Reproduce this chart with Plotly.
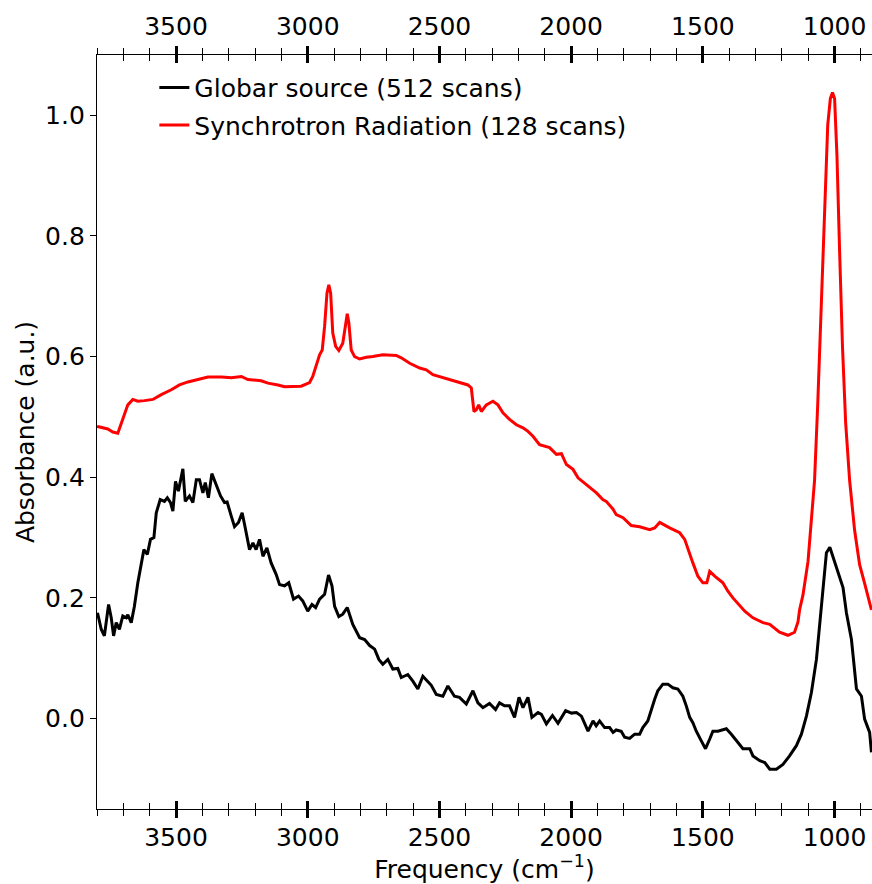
import plotly.graph_objects as go

# Synchrotron Radiation (128 scans)
wn_sync = [3800, 3797, 3759, 3740, 3721, 3708, 3696, 3683, 3664, 3645, 3620, 3588, 3556, 3518, 3487,
           3455, 3417, 3379, 3328, 3290, 3252, 3227, 3177, 3151, 3113, 3088, 3025, 2993, 2981, 2968,
           2955, 2945, 2936, 2927, 2920, 2913, 2905, 2894, 2882, 2867, 2856, 2850, 2844, 2835, 2822,
           2803, 2778, 2753, 2715, 2664, 2645, 2613, 2575, 2550, 2525, 2487, 2462, 2424, 2392, 2379,
           2369, 2360, 2351, 2341, 2322, 2297, 2278, 2259, 2234, 2208, 2183, 2164, 2145, 2120, 2082,
           2056, 2037, 2018, 1993, 1974, 1942, 1904, 1880, 1867, 1841, 1829, 1803, 1772, 1740, 1702,
           1683, 1664, 1626, 1588, 1569, 1550, 1538, 1519, 1500, 1485, 1474, 1455, 1424, 1405, 1386,
           1341, 1310, 1272, 1246, 1209, 1177, 1152, 1139, 1133, 1120, 1101, 1089, 1076, 1064, 1054,
           1045, 1035, 1026, 1016, 1008, 1000, 991, 981, 970, 958, 943, 924, 905, 886, 860]
abs_sync = [0.485, 0.484, 0.480, 0.475, 0.473, 0.490, 0.504, 0.520, 0.529, 0.526, 0.527, 0.529, 0.537, 0.545, 0.553,
            0.558, 0.562, 0.566, 0.566, 0.565, 0.567, 0.562, 0.560, 0.556, 0.553, 0.550, 0.551, 0.557, 0.567, 0.584,
            0.603, 0.611, 0.650, 0.705, 0.719, 0.705, 0.639, 0.617, 0.610, 0.622, 0.653, 0.671, 0.656, 0.611, 0.600,
            0.596, 0.599, 0.600, 0.603, 0.602, 0.598, 0.589, 0.581, 0.578, 0.570, 0.565, 0.563, 0.557, 0.553, 0.548,
            0.509, 0.512, 0.520, 0.509, 0.520, 0.526, 0.520, 0.507, 0.496, 0.487, 0.482, 0.476, 0.468, 0.454, 0.449,
            0.438, 0.439, 0.421, 0.413, 0.399, 0.388, 0.374, 0.363, 0.360, 0.347, 0.338, 0.333, 0.320, 0.318, 0.313,
            0.316, 0.325, 0.316, 0.308, 0.297, 0.272, 0.258, 0.236, 0.225, 0.225, 0.244, 0.236, 0.225, 0.211, 0.200,
            0.178, 0.167, 0.159, 0.156, 0.143, 0.138, 0.143, 0.160, 0.180, 0.205, 0.260, 0.319, 0.395, 0.521, 0.648,
            0.775, 0.901, 0.984, 1.028, 1.038, 1.028, 0.933, 0.775, 0.616, 0.490, 0.395, 0.312, 0.255, 0.224, 0.180]

# Globar source (512 scans)
wn_glob = [3800, 3797, 3784, 3772, 3756, 3746, 3737, 3727, 3715, 3702, 3689, 3683, 3670, 3658, 3645,
           3632, 3622, 3609, 3597, 3584, 3575, 3560, 3544, 3533, 3521, 3512, 3502, 3491, 3474, 3465,
           3449, 3436, 3423, 3411, 3398, 3389, 3377, 3364, 3347, 3331, 3316, 3306, 3290, 3278, 3263,
           3249, 3240, 3221, 3208, 3196, 3183, 3170, 3155, 3139, 3120, 3107, 3088, 3072, 3054, 3035,
           3019, 3000, 2984, 2970, 2955, 2936, 2921, 2908, 2898, 2882, 2867, 2850, 2829, 2803, 2784,
           2765, 2746, 2730, 2715, 2696, 2677, 2658, 2645, 2620, 2601, 2582, 2563, 2531, 2512, 2487,
           2468, 2443, 2424, 2398, 2373, 2354, 2335, 2310, 2287, 2272, 2253, 2234, 2215, 2198, 2183,
           2164, 2149, 2126, 2113, 2094, 2071, 2050, 2021, 1999, 1980, 1961, 1936, 1917, 1905, 1892,
           1873, 1854, 1841, 1829, 1810, 1797, 1778, 1759, 1740, 1728, 1709, 1696, 1683, 1671, 1652,
           1633, 1614, 1595, 1576, 1563, 1550, 1538, 1525, 1506, 1490, 1474, 1462, 1443, 1424, 1411,
           1392, 1373, 1348, 1322, 1310, 1284, 1265, 1246, 1221, 1196, 1171, 1145, 1126, 1107, 1088,
           1069, 1057, 1044, 1031, 1018, 1000, 987, 968, 955, 936, 917, 898, 886, 867, 860]
abs_glob = [0.175, 0.173, 0.148, 0.137, 0.189, 0.167, 0.137, 0.159, 0.148, 0.170, 0.167, 0.172, 0.159, 0.186, 0.225,
            0.253, 0.280, 0.272, 0.297, 0.300, 0.341, 0.363, 0.360, 0.366, 0.358, 0.344, 0.393, 0.377, 0.414, 0.360,
            0.369, 0.358, 0.396, 0.396, 0.374, 0.391, 0.366, 0.406, 0.388, 0.369, 0.358, 0.359, 0.335, 0.318, 0.325,
            0.341, 0.322, 0.280, 0.291, 0.280, 0.297, 0.269, 0.283, 0.258, 0.239, 0.222, 0.220, 0.225, 0.198, 0.203,
            0.195, 0.178, 0.189, 0.184, 0.198, 0.206, 0.238, 0.220, 0.186, 0.169, 0.173, 0.184, 0.156, 0.134, 0.131,
            0.121, 0.115, 0.098, 0.090, 0.098, 0.082, 0.083, 0.068, 0.073, 0.062, 0.049, 0.070, 0.055, 0.040, 0.037,
            0.054, 0.037, 0.035, 0.024, 0.046, 0.026, 0.018, 0.025, 0.015, 0.026, 0.021, 0.021, 0.002, 0.035, 0.018,
            0.035, 0.002, 0.010, 0.007, -0.009, 0.005, -0.008, 0.013, 0.009, 0.010, 0.004, -0.021, -0.004, -0.012, -0.004,
            -0.015, -0.015, -0.023, -0.019, -0.021, -0.031, -0.033, -0.026, -0.026, -0.015, -0.004, 0.015, 0.032, 0.046, 0.057,
            0.057, 0.051, 0.049, 0.037, 0.021, 0.002, -0.007, -0.021, -0.037, -0.050, -0.034, -0.021, -0.021, -0.018, -0.017,
            -0.026, -0.037, -0.050, -0.050, -0.062, -0.070, -0.073, -0.084, -0.084, -0.076, -0.062, -0.045, -0.026, 0.004, 0.043,
            0.098, 0.153, 0.225, 0.275, 0.284, 0.261, 0.242, 0.217, 0.175, 0.131, 0.049, 0.037, -0.001, -0.023, -0.056]

x_range = [3800, 858]
y_range = [-0.15, 1.10]
x_major = [3500, 3000, 2500, 2000, 1500, 1000]

FONT = "DejaVu Sans"
fig = go.Figure()
fig.add_trace(go.Scatter(x=wn_glob, y=abs_glob, mode="lines", name="Globar source (512 scans)",
                         legendgroup="g", line=dict(color="black", width=3)))
fig.add_trace(go.Scatter(x=wn_sync, y=abs_sync, mode="lines", name="Synchrotron Radiation (128 scans)",
                         legendgroup="s", line=dict(color="red", width=3)))
# invisible carriers so that the extra tick axes are drawn
for ax in ["x2", "x3", "x4"]:
    fig.add_trace(go.Scatter(x=wn_glob, y=abs_glob, xaxis=ax, yaxis="y", mode="lines", opacity=0,
                             showlegend=False, hoverinfo="skip", line=dict(width=0.1)))

common = dict(range=x_range, autorange=False, showgrid=False, zeroline=False, tickmode="array",
              tickvals=x_major, tickcolor="black", tickwidth=3, ticklen=8, automargin=False)
minor_out = dict(dtick=100, tick0=0, ticks="outside", ticklen=6, tickwidth=1.3, tickcolor="black", showgrid=False)
minor_in = dict(dtick=100, tick0=0, ticks="inside", ticklen=6, tickwidth=1.3, tickcolor="black", showgrid=False)

fig.update_layout(
    width=872, height=884,
    margin=dict(l=97, r=0, t=55, b=75, autoexpand=False),
    plot_bgcolor="white", paper_bgcolor="white",
    font=dict(family=FONT, size=25, color="black"),
    xaxis=dict(**common, side="bottom", anchor="y", ticks="outside", minor=minor_out,
               showline=True, linecolor="black", linewidth=1.3,
               tickfont=dict(size=25), ticklabelstandoff=-2,
               title=dict(text="Frequency (cm<sup>−1</sup>)", font=dict(size=25), standoff=10)),
    xaxis2=dict(**common, side="bottom", anchor="y", overlaying="x", ticks="inside", minor=minor_in,
                showticklabels=False, showline=False),
    xaxis3=dict(**common, side="top", anchor="y", overlaying="x", ticks="outside", minor=minor_out,
                showline=True, linecolor="black", linewidth=1.3, showticklabels=True,
                tickfont=dict(size=25), ticklabelstandoff=1),
    xaxis4=dict(**common, side="top", anchor="y", overlaying="x", ticks="inside", minor=minor_in,
                showticklabels=False, showline=False),
    yaxis=dict(range=y_range, autorange=False, tick0=0, dtick=0.2, tickformat=".1f", ticks="outside", ticklen=6,
               tickwidth=1.3, tickcolor="black", showline=True, linecolor="black", linewidth=1.3,
               showgrid=False, zeroline=False, tickfont=dict(size=25), automargin=False,
               title=dict(text="Absorbance (a.u.)", font=dict(size=25), standoff=3)),
    legend=dict(x=0.074, y=0.987, xanchor="left", yanchor="top", bgcolor="rgba(0,0,0,0)",
                font=dict(size=25), tracegroupgap=2, itemwidth=30),
    showlegend=True,
)

fig.write_html("out.html", config={"displayModeBar": False},
               post_script="document.body.style.margin='0';document.body.style.overflow='hidden';")
